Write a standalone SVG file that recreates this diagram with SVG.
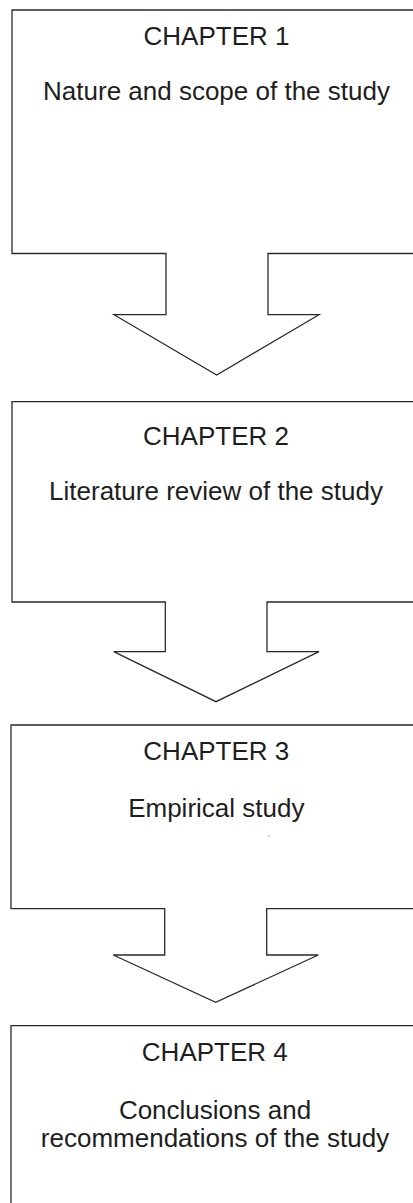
<svg xmlns="http://www.w3.org/2000/svg" width="413" height="1203" viewBox="0 0 413 1203">
  <style>
    .shape { fill: #ffffff; stroke: #2a2a2a; stroke-width: 1.3; stroke-linejoin: miter; }
    .label { font-family: "Liberation Sans", Arial, sans-serif; font-size: 26px; fill: #1e1e1e; text-anchor: middle; }
  </style>
  <rect x="0" y="0" width="413" height="1203" fill="#ffffff"/>
  <g id="chapter1">
    <path class="shape" d="M12,10 H421 V253.5 H268 V314.7 H319 L216.7,375 L114,314.7 H166 V253.5 H12 Z"/>
    <text class="label" x="216.5" y="45">CHAPTER 1</text>
    <text class="label" x="216.5" y="100">Nature and scope of the study</text>
  </g>
  <g id="chapter2">
    <path class="shape" d="M12,401.7 H421 V602 H267 V651.7 H319 L216,701.7 L113.7,651.7 H165.3 V602 H12 Z"/>
    <text class="label" x="216" y="445">CHAPTER 2</text>
    <text class="label" x="216" y="500">Literature review of the study</text>
  </g>
  <g id="chapter3">
    <path class="shape" d="M11,725 H421 V908.7 H266.7 V955 H318.3 L215.7,1002.3 L113.3,955 H164.7 V908.7 H11 Z"/>
    <text class="label" x="216.3" y="760">CHAPTER 3</text>
    <text class="label" x="216.3" y="817">Empirical study</text>
    <circle cx="269" cy="836" r="0.7" fill="#777"/>
  </g>
  <g id="chapter4">
    <path class="shape" d="M11,1215 V1025.7 H421 V1215 Z"/>
    <text class="label" x="214.8" y="1060.5">CHAPTER 4</text>
    <text class="label" x="215" y="1118.5">Conclusions and</text>
    <text class="label" x="215" y="1146.7">recommendations of the study</text>
  </g>
  <g id="connectors"></g>
</svg>
